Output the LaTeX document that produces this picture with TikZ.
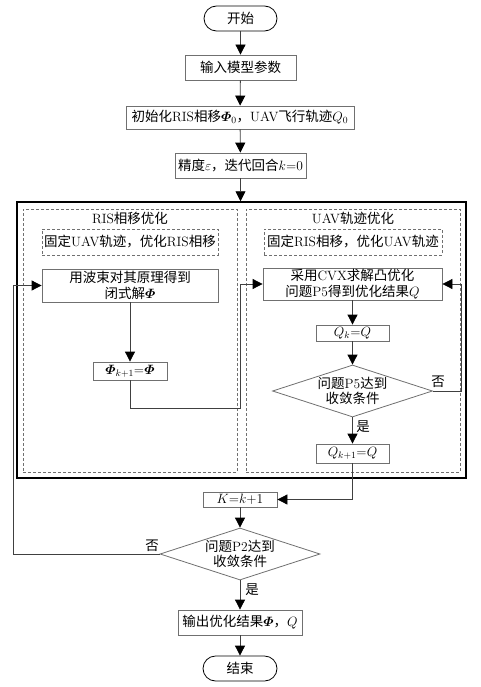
\RequirePackage{fix-cm}
\documentclass[tikz,border=0pt]{standalone}
\usepackage{amsmath,bm}
\usepackage{fontspec}
\newfontfamily\cjk{Noto Sans CJK SC}
\usetikzlibrary{shapes.geometric,arrows.meta}
\newcommand{\zh}[1]{{\cjk #1}}
\newcommand{\Phib}{\bm{\varPhi}}
\definecolor{boxc}{HTML}{707070}
\definecolor{linec}{HTML}{404040}
\begin{document}
\begin{tikzpicture}[x=1pt,y=-1pt,
 font=\fontsize{13.5}{15.5}\selectfont,
 box/.style={draw=boxc, line width=0.8pt, inner sep=0pt, align=center, fill=white},
 pill/.style={box, draw=black, rounded corners=12.5pt},
 dbox/.style={draw=boxc, line width=0.7pt, dashed, dash pattern=on 3pt off 2pt, inner sep=0pt},
 dia/.style={box, diamond, aspect=3.08},
 arr/.style={draw=linec, line width=0.8pt, -{Triangle[width=10pt,length=10pt,color=black]}},
 lbl/.style={inner sep=0pt}
]
\useasboundingbox (0,0) rectangle (481,687);

% top chain
\node[pill, minimum width=73pt, minimum height=25pt] (start) at (240.5,18.5) {\zh{开始}};
\node[box, minimum width=111pt, minimum height=25pt] (inp) at (240.5,67.5) {\zh{输入模型参数}};
\node[box, minimum width=228pt, minimum height=23pt] (init) at (240,117.5) {\zh{初始化}RIS\zh{相移}$\Phib_0$\zh{，}UAV\zh{飞行轨迹}$Q_0$};
\node[box, minimum width=131pt, minimum height=25pt] (prec) at (240.5,165.5) {\zh{精度}$\varepsilon$\zh{，迭代回合}$k{=}0$};

% frames
\node[draw=black, line width=1.5pt, minimum width=449pt, minimum height=276pt, inner sep=0pt] (outer) at (241.5,340) {};
\node[dbox, minimum width=214pt, minimum height=263pt] (leftd) at (130,340.5) {};
\node[dbox, minimum width=214pt, minimum height=263pt] (rightd) at (353,340.5) {};
\node[lbl] (ltitle) at (130,218) {RIS\zh{相移优化}};
\node[lbl] (rtitle) at (353,218) {UAV\zh{轨迹优化}};
\node[dbox, minimum width=176pt, minimum height=26pt] (lsub) at (130,242) {\zh{固定}UAV\zh{轨迹，优化}RIS\zh{相移}};
\node[dbox, minimum width=178pt, minimum height=26pt] (rsub) at (353,242) {\zh{固定}RIS\zh{相移，优化}UAV\zh{轨迹}};

% left branch
\node[box, minimum width=176pt, minimum height=33pt] (lbox) at (130,285.5) {\zh{用波束对其原理得到}\\\zh{闭式解}$\Phib$};
\node[box, minimum width=74pt, minimum height=18pt] (phik) at (130,371) {$\Phib_{k+1}{=}\Phib$};

% right branch
\node[box, minimum width=179pt, minimum height=32pt] (rbox) at (352.5,284) {\zh{采用}CVX\zh{求解凸优化}\\\zh{问题}P5\zh{得到优化结果}$Q$};
\node[box, minimum width=73pt, minimum height=16pt] (qk) at (352.5,333) {$Q_k{=}Q$};
\node[dia, minimum width=160pt, minimum height=52pt] (d5) at (352.5,391) {\zh{问题}P5\zh{达到}\\\zh{收敛条件}};
\node[box, minimum width=73pt, minimum height=19pt] (qk1) at (352.5,453.5) {$Q_{k+1}{=}Q$};

% bottom chain
\node[box, minimum width=74pt, minimum height=15pt] (kk) at (240,499.5) {$K{=}k{+}1$};
\node[dia, minimum width=160pt, minimum height=52pt] (d2) at (240,554) {\zh{问题}P2\zh{达到}\\\zh{收敛条件}};
\node[box, minimum width=124pt, minimum height=25pt] (out) at (240,622.5) {\zh{输出优化结果}$\Phib$\zh{，}$Q$};
\node[pill, minimum width=74pt, minimum height=25pt] (end) at (240,668.5) {\zh{结束}};

% labels
\node[lbl] (no5) at (438,382) {\zh{否}};
\node[lbl] (yes5) at (363,427) {\zh{是}};
\node[lbl] (no2) at (152,546) {\zh{否}};
\node[lbl] (yes2) at (252,590) {\zh{是}};

% coordinates
\coordinate (c1) at (130,408);
\coordinate (c2) at (240,408);
\coordinate (c3) at (240,284);
\coordinate (c4) at (461,391);
\coordinate (c5) at (461,284);
\coordinate (c6) at (352.5,499.5);
\coordinate (c7) at (13,554);
\coordinate (c8) at (13,285.5);

% connectors
\draw[arr] (start) -- (inp);
\draw[arr] (inp) -- (init);
\draw[arr] (init) -- (prec);
\draw[arr] (prec) -- (prec.south |- outer.north);
\draw[arr] (lbox) -- (phik);
\draw[arr] (phik.south) -- (c1) -- (c2) -- (c3) -- (rbox.west);
\draw[arr] (rbox) -- (qk);
\draw[arr] (qk) -- (d5);
\draw[arr] (d5) -- (qk1);
\draw[arr] (d5.east) -- (c4) -- (c5) -- (rbox.east);
\draw[arr] (qk1.south) -- (c6) -- (kk.east);
\draw[arr] (kk) -- (d2);
\draw[arr] (d2.west) -- (c7) -- (c8) -- (lbox.west);
\draw[arr] (d2) -- (out);
\draw[arr] (out) -- (end);
\end{tikzpicture}
\end{document}
